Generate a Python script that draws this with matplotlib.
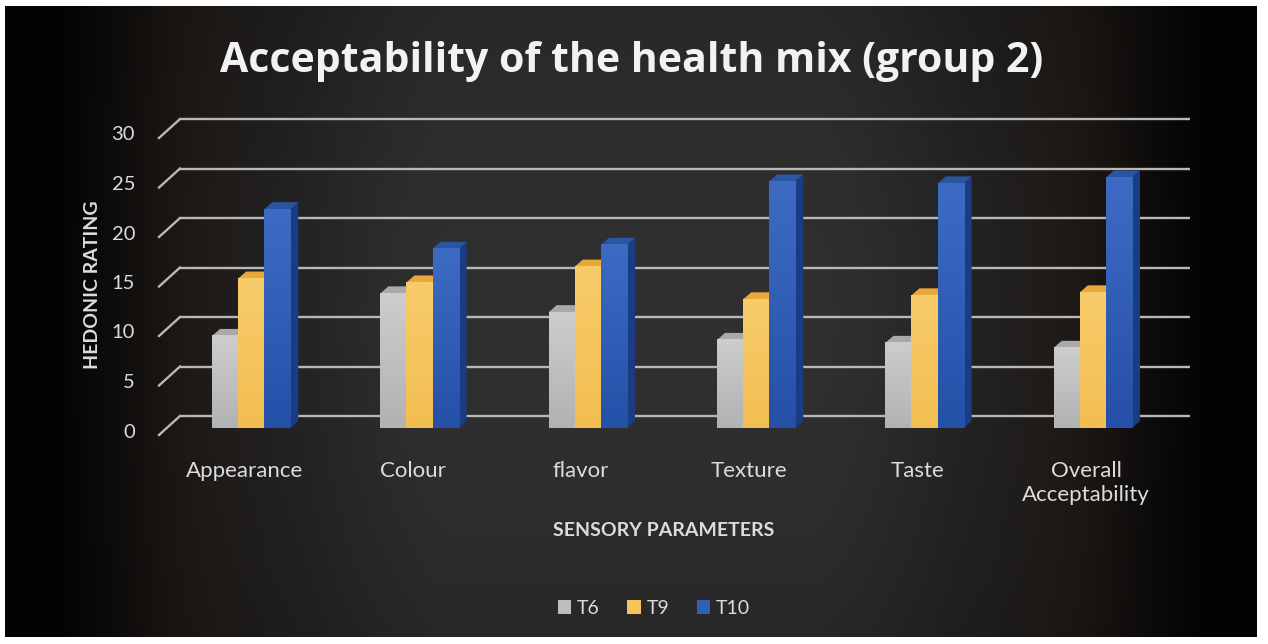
import numpy as np
import matplotlib
matplotlib.use("Agg")
import matplotlib.pyplot as plt
from matplotlib.patches import Polygon, Rectangle
from matplotlib.colors import to_rgb
from matplotlib.transforms import offset_copy

# ---- data -------------------------------------------------------------
categories = ["Appearance", "Colour", "flavor", "Texture", "Taste",
              "Overall\nAcceptability"]
series_names = ["T6", "T9", "T10"]
t6_values = [9.3, 13.6, 11.7, 8.9, 8.6, 8.1]
t9_values = [15.1, 14.7, 16.3, 13.0, 13.4, 13.7]
t10_values = [22.1, 18.1, 18.5, 24.9, 24.7, 25.3]
y_ticks = [0, 5, 10, 15, 20, 25, 30]

title = "Acceptability of the health mix (group 2)"
x_title = "SENSORY PARAMETERS"
y_title = "HEDONIC RATING"

# ---- styling ----------------------------------------------------------
FONT = ["Lato", "DejaVu Sans"]
plt.rcParams["font.family"] = FONT
TEXT = "#DCDCDC"
GRID = "#B8B8B8"
front_cols = ["#BEBEBE", "#F5C55C", "#2F5FB8"]
front_hi = ["#CDCDCD", "#F8CC6A", "#3D6BC4"]
front_lo = ["#B2B2B2", "#F2BE52", "#2550A8"]
top_cols = ["#A9A9A9", "#E9A83C", "#2A55A3"]
side_cols = ["#8A8A8A", "#C98E2A", "#1A3C85"]

W, H = 1268, 644
fig = plt.figure(figsize=(W / 100, H / 100), dpi=100, facecolor="white")

# dark panel: flat charcoal centre fading to black at the sides
bg = fig.add_axes([5 / W, (H - 637) / H, (1257 - 5) / W, (637 - 6) / H])
bg.set_axis_off()
gx, gy = np.meshgrid(np.linspace(-1, 1, 800), np.linspace(-1, 1, 400))
hx = np.clip((np.abs(gx) - 0.30) / 0.62, 0, 1)
lum = (1 - hx ** 1.3) * (1 - 0.18 * np.abs(gy) ** 2)
warm = np.clip(1 - np.abs(np.abs(gx) - 0.72) / 0.2, 0, 1)
img = np.zeros(gx.shape + (3,))
img[..., 0] = 0.012 + 0.175 * lum + 0.045 * warm * (1 - hx * 0.5)
img[..., 1] = 0.012 + 0.175 * lum + 0.020 * warm * (1 - hx * 0.5)
img[..., 2] = 0.012 + 0.178 * lum
bg.imshow(np.clip(img, 0, 1), aspect="auto", extent=[0, 1, 0, 1])

# plotting plane (front faces of the columns)
x0_px, x1_px = 167, 1177
y0_px, y1_px = 428, 131
ax = fig.add_axes([x0_px / W, (H - y0_px) / H, (x1_px - x0_px) / W,
                   (y0_px - y1_px) / H])
ax.patch.set_visible(False)
for s in ax.spines.values():
    s.set_visible(False)

px_x = (x1_px - x0_px) / 6.0     # pixels per category unit
px_y = (y0_px - y1_px) / 30.0    # pixels per value unit

# wall geometry, in pixels relative to the column plane
back = (13, 12)
front = (-8, -7)
depth = (8, 7)  # column depth

back_tr = offset_copy(ax.transData, fig=fig, x=back[0], y=back[1], units="dots")
for v in y_ticks:
    ax.plot([-0.5, 5.5], [v, v], color=GRID, lw=1.7, transform=back_tr,
            zorder=1, clip_on=False, solid_capstyle="butt")
    ax.plot([-0.5 + front[0] / px_x, -0.5 + back[0] / px_x],
            [v + front[1] / px_y, v + back[1] / px_y],
            color=GRID, lw=1.7, zorder=1, clip_on=False)
    ax.text(-0.5 + (front[0] - 24) / px_x, v + (front[1] + 3) / px_y, str(v),
            ha="right", va="center", fontsize=14.5, color=TEXT, clip_on=False)

# columns: front via ax.bar, then depth faces derived from each value
bw = 0.155
xs = np.arange(len(categories))
ddx = depth[0] / px_x
ddy = depth[1] / px_y
for k, vals in enumerate([t6_values, t9_values, t10_values]):
    pos = xs + (k - 1) * bw
    bars = ax.bar(pos, vals, width=bw, color=front_cols[k], zorder=5 + 3 * k,
                  label=series_names[k], linewidth=0)
    hi, lo = np.array(to_rgb(front_hi[k])), np.array(to_rgb(front_lo[k]))
    t = np.linspace(0, 1, 64)[:, None]
    grad = (hi * (1 - t) + lo * t)[:, None, :]
    for b in bars:
        xl = b.get_x()
        xr = xl + b.get_width()
        h = b.get_height()
        ax.imshow(grad, extent=[xl, xr, 0, h], aspect="auto", origin="upper",
                  zorder=5.5 + 3 * k, clip_path=b, interpolation="bilinear")
        side = Polygon([(xr, 0), (xr + ddx, ddy), (xr + ddx, h + ddy), (xr, h)],
                       closed=True, facecolor=side_cols[k], lw=0,
                       zorder=4 + 3 * k)
        top = Polygon([(xl, h), (xr, h), (xr + ddx, h + ddy), (xl + ddx, h + ddy)],
                      closed=True, facecolor=top_cols[k], lw=0,
                      zorder=4 + 3 * k)
        ax.add_patch(side)
        ax.add_patch(top)

ax.set_xlim(-0.5, 5.5)
ax.set_ylim(0, 30)
ax.set_yticks([])
ax.set_xticks(xs - 0.04)
ax.set_xticklabels(categories, fontsize=16, color=TEXT, linespacing=1.25)
ax.tick_params(axis="x", length=0, pad=24)

# titles
fig.text(632 / W, (H - 72) / H, title, ha="center", va="baseline",
         fontsize=29.5, fontweight="bold", color="#F2F2F2",
         family=["Open Sans", "DejaVu Sans"])
fig.text(664 / W, (H - 531) / H, x_title, ha="center", va="center",
         fontsize=14, fontweight="bold", color=TEXT)
fig.text(92 / W, (H - 285) / H, y_title, ha="center", va="center",
         rotation=90, fontsize=14, fontweight="bold", color=TEXT)

# legend
handles = [Rectangle((0, 0), 1, 1, facecolor=c, lw=0) for c in front_cols]
leg = fig.legend(handles, series_names, loc="center",
                 bbox_to_anchor=(654 / W, (H - 608) / H), ncol=3, frameon=False,
                 fontsize=14, handlelength=0.7, handleheight=0.7,
                 handletextpad=0.3, columnspacing=1.4, labelcolor=TEXT)

fig.savefig("out.png", dpi=100, facecolor="white")
